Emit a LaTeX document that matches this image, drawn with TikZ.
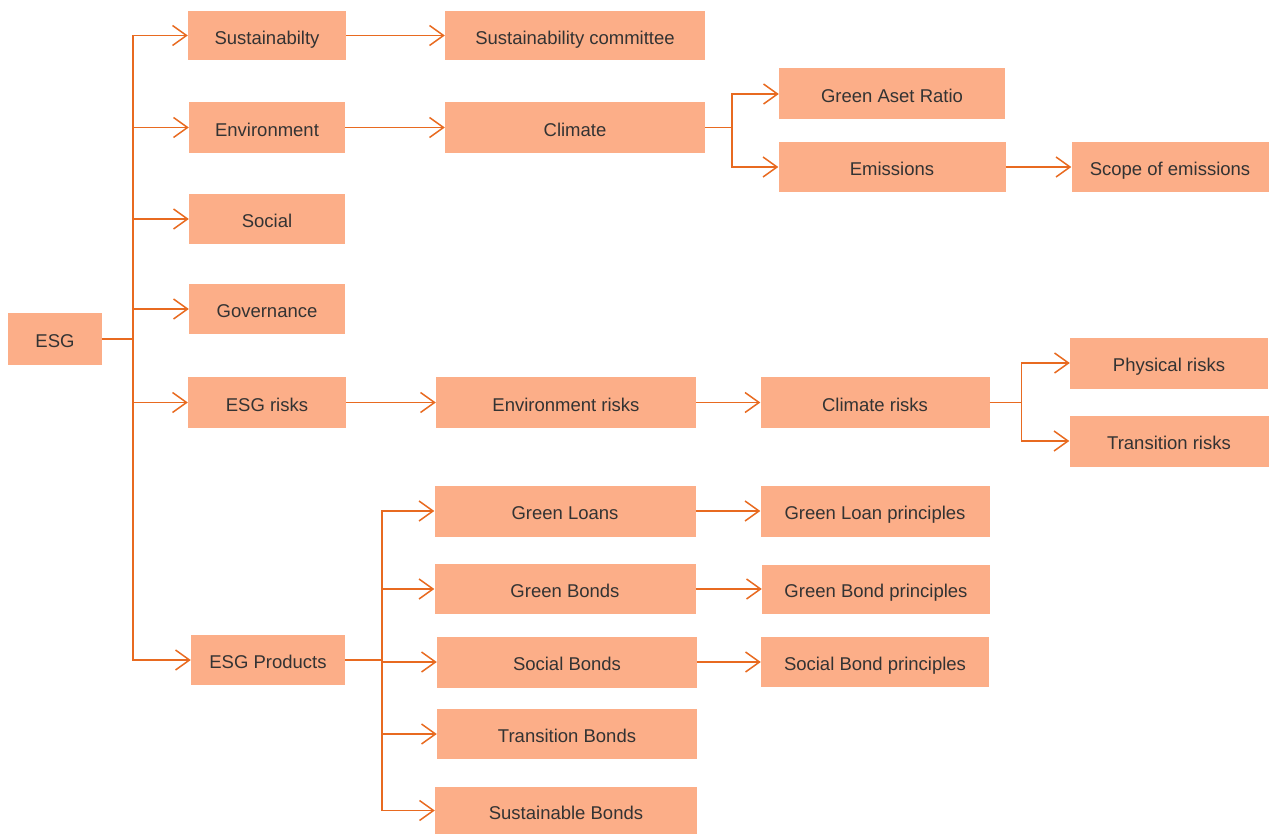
\documentclass[tikz,border=0pt]{standalone}
\usepackage{fontspec}
\setmainfont{Liberation Sans}
\usetikzlibrary{arrows.meta}
\definecolor{boxfill}{RGB}{252,174,136}
\definecolor{linkcol}{RGB}{232,106,32}
\definecolor{txtcol}{RGB}{51,51,51}
\tikzset{
 box/.style={fill=boxfill, text=txtcol, inner sep=0pt, minimum height=50pt, text height=17.5pt, text depth=0pt, font=\fontsize{18.5}{22}\selectfont},
 link/.style={linkcol, line width=1.5pt, -{Straight Barb[length=14pt,width=20pt,line width=1.5pt]}}
}
\begin{document}
\begin{tikzpicture}[x=1pt, y=-1pt]
\useasboundingbox (0,0) rectangle (1269,834);
\node[box, minimum width=94pt, minimum height=51pt] (esg) at (55,339) {ESG};

\node[box, minimum width=158pt, minimum height=49pt] (sust) at (267,35.5) {Sustainabilty};
\node[box, minimum width=156pt, minimum height=51pt] (env) at (267,127.5) {Environment};
\node[box, minimum width=156pt] (soc) at (267,219) {Social};
\node[box, minimum width=156pt] (gov) at (267,309) {Governance};
\node[box, minimum width=158pt, minimum height=51pt] (risk) at (267,402.5) {ESG risks};
\node[box, minimum width=154pt] (prod) at (268,660) {ESG Products};

\node[box, minimum width=260pt, minimum height=49pt] (comm) at (575,35.5) {Sustainability committee};
\node[box, minimum width=260pt, minimum height=51pt] (clim) at (575,127.5) {Climate};
\node[box, minimum width=226pt, minimum height=51pt] (gar) at (892,94) {Green Aset Ratio};
\node[box, minimum width=227pt] (emis) at (892,167) {Emissions};
\node[box, minimum width=197pt] (scope) at (1170,167) {Scope of emissions};

\node[box, minimum width=260pt, minimum height=51pt] (envr) at (566,402.5) {Environment risks};
\node[box, minimum width=229pt, minimum height=51pt] (climr) at (875,402.5) {Climate risks};
\node[box, minimum width=198pt, minimum height=51pt] (phys) at (1169,363) {Physical risks};
\node[box, minimum width=199pt, minimum height=51pt] (trans) at (1169,441) {Transition risks};

\node[box, minimum width=261pt, minimum height=51pt] (gloan) at (565,511) {Green Loans};
\node[box, minimum width=261pt] (gbond) at (565,589) {Green Bonds};
\node[box, minimum width=260pt, minimum height=51pt] (sbond) at (567,662) {Social Bonds};
\node[box, minimum width=260pt] (tbond) at (567,734) {Transition Bonds};
\node[box, minimum width=262pt, minimum height=47pt] (subond) at (566,810.5) {Sustainable Bonds};
\node[box, minimum width=229pt, minimum height=51pt] (glp) at (875,511) {Green Loan principles};
\node[box, minimum width=228pt, minimum height=49pt] (gbp) at (876,589) {Green Bond principles};
\node[box, minimum width=228pt] (sbp) at (875,662) {Social Bond principles};

\foreach \n in {sust,env,soc,gov,risk,prod} \draw[link] (esg.east) -- ++(31,0) |- (\n.west);
\foreach \n in {gar,emis} \draw[link] (clim.east) -- ++(27,0) |- (\n.west);
\foreach \n in {phys,trans} \draw[link] (climr.east) -- ++(32,0) |- (\n.west);
\foreach \n in {gloan,gbond,sbond,tbond,subond} \draw[link] (prod.east) -- ++(37,0) |- (\n.west);

\foreach \a/\b in {sust/comm,env/clim,emis/scope,risk/envr,envr/climr,gloan/glp,gbond/gbp,sbond/sbp}
 \draw[link] (\a.east) -- (\b.west);

\end{tikzpicture}
\end{document}
